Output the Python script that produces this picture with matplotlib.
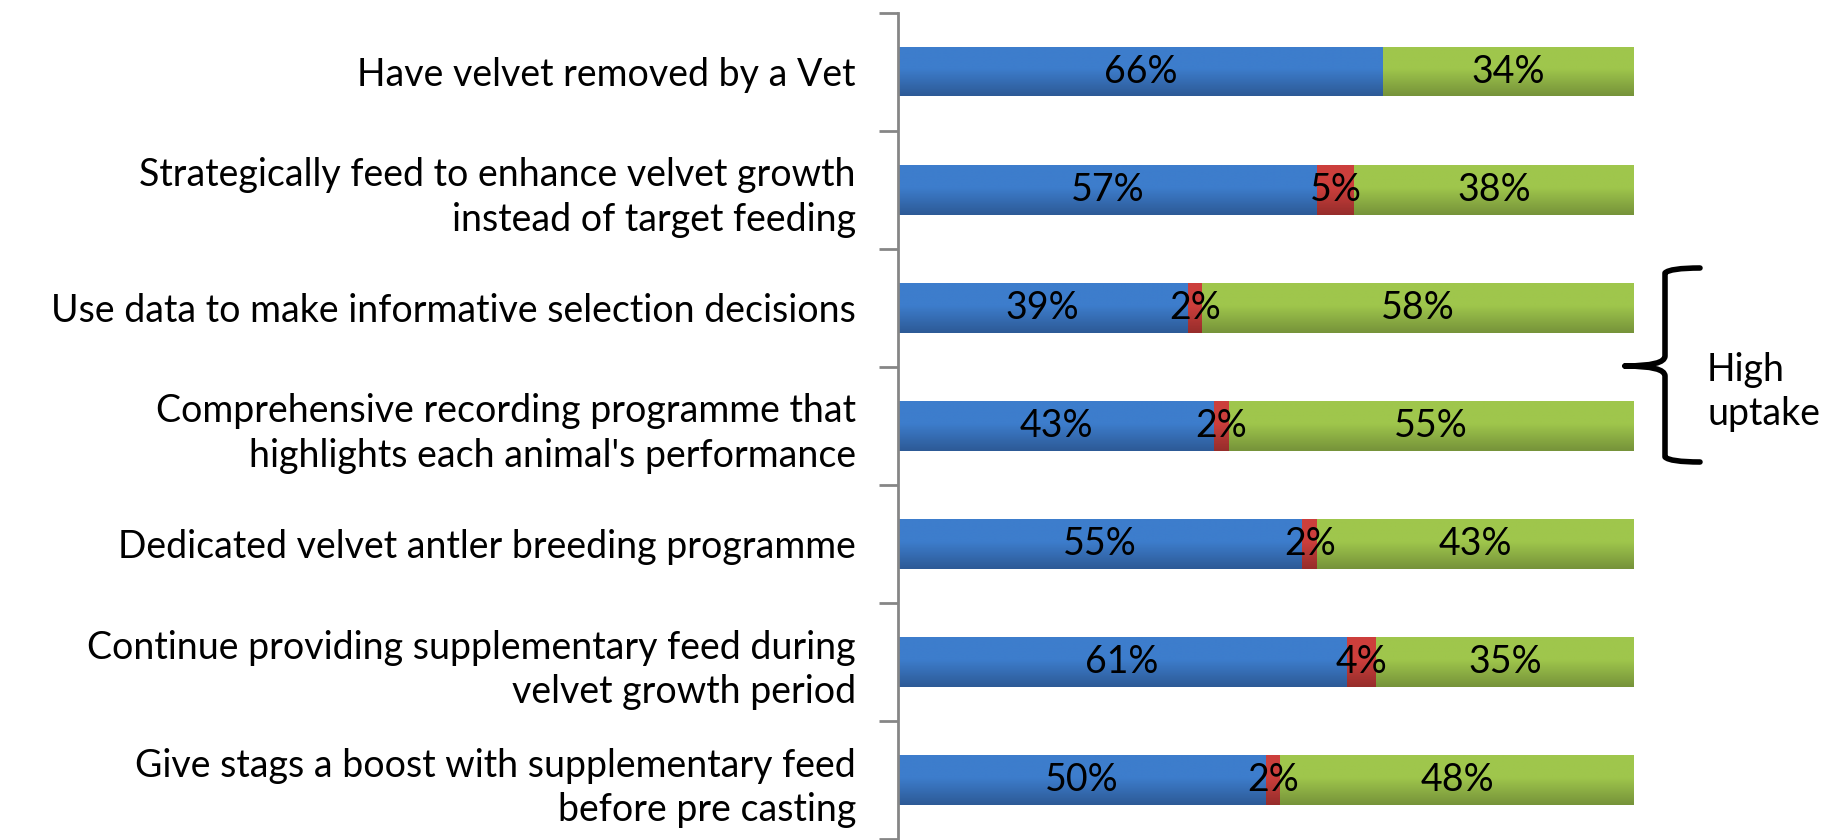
import numpy as np
import matplotlib.pyplot as plt
from matplotlib.colors import LinearSegmentedColormap
from matplotlib.path import Path
from matplotlib.patches import PathPatch

plt.rcParams['font.family'] = ['Lato', 'DejaVu Sans']

categories = [
    "Have velvet removed by a Vet",
    "Strategically feed to enhance velvet growth\ninstead of target feeding",
    "Use data to make informative selection decisions",
    "Comprehensive recording programme that\nhighlights each animal's performance",
    "Dedicated velvet antler breeding programme",
    "Continue providing supplementary feed during\nvelvet growth period",
    "Give stags a boost with supplementary feed\nbefore pre casting",
]
blue_vals = [66, 57, 39, 43, 55, 61, 50]
red_vals = [0, 5, 2, 2, 2, 4, 2]
green_vals = [34, 38, 58, 55, 43, 35, 48]

# (top colour, bottom colour) for the bar gradients
shades = [("#3d7dcc", "#2d5a96"), ("#cc3f3c", "#962d2b"), ("#9fc64c", "#76933a")]

# 100% stacked: each row scaled to its own total
totals = np.array(blue_vals) + np.array(red_vals) + np.array(green_vals)

fig = plt.figure(figsize=(18.47, 8.4), dpi=100)
ax = fig.add_axes([0.486, 0.001, 0.3985, 0.984])

y = np.arange(len(categories))
left = np.zeros(len(categories))
for vals, (c_top, c_bot) in zip([blue_vals, red_vals, green_vals], shades):
    widths = np.array(vals) / totals * 100
    bars = ax.barh(y, widths, left=left, height=0.42, color=c_bot, linewidth=0)
    cmap = LinearSegmentedColormap.from_list("g", [(0, c_top), (0.45, c_top), (1, c_bot)])
    grad = np.linspace(0, 1, 64).reshape(-1, 1)
    for b, v, w, l, yy in zip(bars, vals, widths, left, y):
        if v == 0:
            continue
        x0, y0 = b.get_x(), b.get_y()
        im = ax.imshow(grad, cmap=cmap, aspect='auto', interpolation='bilinear',
                       extent=(x0, x0 + b.get_width(), y0 + b.get_height(), y0), zorder=2)
        im.set_clip_path(b)
        ax.text(l + w / 2, yy, f"{v}%", ha='center', va='center', fontsize=27, zorder=3)
    left = left + widths

ax.set_xlim(0, 100)
ax.set_ylim(len(categories) - 0.5, -0.5)
ax.set_yticks(np.arange(-0.5, len(categories)), labels=[])
ax.set_yticks(y, labels=categories, minor=True)
ax.tick_params(axis='y', which='major', length=14, width=2, color='#868686', direction='out')
ax.tick_params(axis='y', which='minor', length=0, pad=30, labelsize=27)
for lab in ax.get_yticklabels(minor=True):
    lab.set_multialignment('right')
    lab.set_linespacing(1.3)
ax.xaxis.set_visible(False)
for s in ['top', 'right', 'bottom']:
    ax.spines[s].set_visible(False)
ax.spines['left'].set_color('#868686')
ax.spines['left'].set_linewidth(2)

# curly bracket for rows 3 and 4
W, H = 1847, 840
def fc(px, py):
    return (px / W, 1 - py / H)

xb, xr, xt = 1665, 1700, 1625
yt, ym, ybm = 268, 366, 462
verts = [fc(xr, yt), fc(xb + 5, yt), fc(xb, yt + 5), fc(xb, ym - 10), fc(xb, ym), fc(xt, ym),
         fc(xt, ym), fc(xb, ym), fc(xb, ym + 10), fc(xb, ybm - 5), fc(xb + 5, ybm), fc(xr, ybm)]
codes = [Path.MOVETO, Path.CURVE3, Path.CURVE3, Path.LINETO, Path.CURVE3, Path.CURVE3,
         Path.MOVETO, Path.CURVE3, Path.CURVE3, Path.LINETO, Path.CURVE3, Path.CURVE3]
fig.add_artist(PathPatch(Path(verts, codes), fill=False, lw=4, color='black',
                         transform=fig.transFigure, capstyle='round', joinstyle='round'))
fig.text(1707 / W, 1 - 392 / H, "High\nuptake", fontsize=27, ha='left', va='center', linespacing=1.3)

fig.savefig("out.png", dpi=100)
